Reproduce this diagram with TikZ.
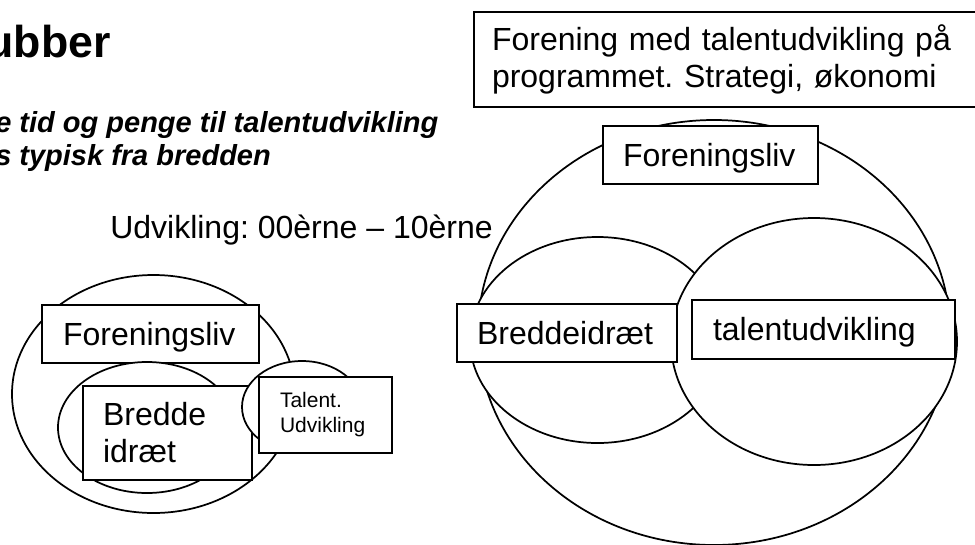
\documentclass[tikz,border=0pt]{standalone}
\usepackage{fontspec}
\setmainfont{Liberation Sans}
\usepackage{tikz}
\frenchspacing

\tikzset{
	blob/.style={draw, fill=white, line width=1.3pt},
	lbl/.style={draw, fill=white, line width=1.3pt, outer sep=0pt, inner ysep=0pt,
		anchor=west, align=left, font=\fontsize{24}{27.75}\selectfont},
	oneline/.style={text height=17.2pt, text depth=0pt},
	txt/.style={inner sep=0pt, anchor=base west, font=\fontsize{24}{28}\selectfont}
}

\begin{document}
\begin{tikzpicture}[x=0.75pt, y=-0.75pt]
			%%%%% START %%%%%
			\useasboundingbox (0, 0) rectangle (975, 544);
			
			\node[inner sep=0pt, anchor=base east, font=\bfseries\fontsize{33.5}{40}\selectfont] (title) at (111, 57) {ubber};
			\node[txt, font=\bfseries\itshape\fontsize{21.75}{24.75}\selectfont] (sub1) at (-5, 132) {e tid og penge til talentudvikling};
			\node[txt, font=\bfseries\itshape\fontsize{21.75}{24.75}\selectfont] (sub2) at (-5, 165) {s typisk fra bredden};
			\node[txt] (udv) at (110, 238) {Udvikling: 00èrne – 10èrne};
			
			% left: then
			\draw[blob] (153.5, 394) ellipse [x radius=141.5, y radius=119];
			\node[lbl, oneline, inner xsep=15.75pt, text width=131.25pt, minimum height=43.5pt] (forL) at (42, 334) {Foreningsliv};
			\draw[blob] (147, 427.5) ellipse [x radius=89, y radius=65.5];
			\node[lbl, inner xsep=15pt, text width=96.75pt, minimum height=70.5pt] (bredL) at (83, 433) {Bredde\\idræt};
			\draw[blob] (302, 407) ellipse [x radius=60, y radius=46];
			\node[lbl, inner xsep=15.75pt, text width=68.25pt, minimum height=57pt, font=\fontsize{15.75}{18.75}\selectfont] (talL) at (259, 415) {Talent.\\Udvikling};
			
			% right: now
			\node[lbl, inner xsep=13.5pt, text width=356.25pt, minimum height=71.25pt] (prog) at (474, 59.5) {Forening med talentudvikling på\\programmet. Strategi, økonomi};
			\draw[blob] (714, 332.5) ellipse [x radius=236, y radius=212.5];
			\draw[blob] (597.5, 340) ellipse [x radius=127.5, y radius=103];
			\draw[blob] (814, 341.5) ellipse [x radius=143, y radius=123.5];
			\node[lbl, oneline, inner xsep=15pt, text width=131.25pt, minimum height=43.5pt] (forR) at (603, 155) {Foreningsliv};
			\node[lbl, oneline, inner xsep=15pt, text width=135pt, minimum height=43.5pt] (bredR) at (457, 333) {Breddeidræt};
			\node[lbl, oneline, inner xsep=15.75pt, text width=165.75pt, minimum height=44.25pt] (talR) at (692, 329.5) {talentudvikling};
			
			%%%%% END %%%%%
\end{tikzpicture}
\end{document}
